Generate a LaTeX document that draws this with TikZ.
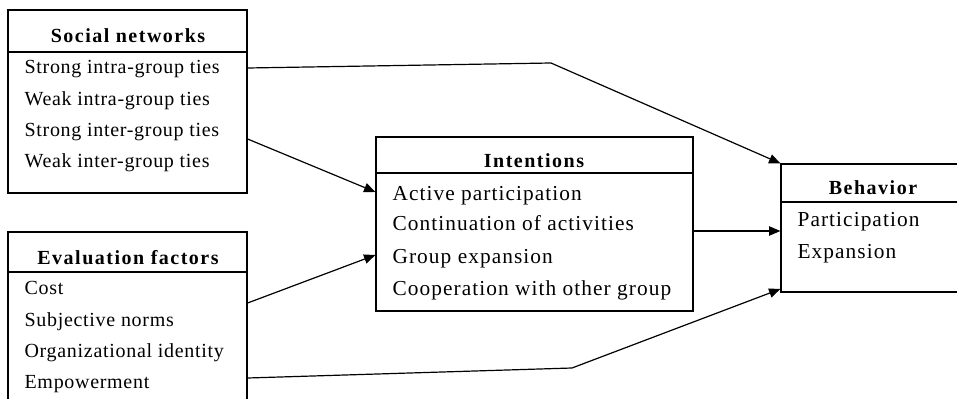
\documentclass[tikz,border=0pt]{standalone}
\usepackage{fontspec}
\setmainfont{Liberation Serif}[LetterSpace=3.5]
\newfontfamily\headfont{Liberation Serif}[LetterSpace=7.5]
\newfontfamily\wideitemfont{Liberation Serif}[LetterSpace=5]
\usetikzlibrary{arrows.meta,fit}

\begin{document}
\begin{tikzpicture}[x=0.75pt,y=-0.75pt,line width=0.9pt,
  box/.style={draw,inner sep=0pt},
  head/.style={anchor=base,inner sep=0pt,font=\headfont\bfseries\fontsize{15}{17}\selectfont},
  item/.style={anchor=base west,inner sep=0pt,font=\fontsize{15}{17}\selectfont},
  wideitem/.style={item,font=\wideitemfont\fontsize{16}{18}\selectfont},
  link/.style={-{Triangle[length=8.5pt,width=7pt]}}]
 \useasboundingbox (0,0) rectangle (957,399);
 \clip (0,0) rectangle (957,399);
 % boxes; the evaluation box and the behavior box run off the page
 \node[box,fit={(8,10) (247,193)}] (soc) {};
 \node[box,fit={(8,232) (247,420)}] (eva) {};
 \node[box,fit={(376,137) (693,311)}] (int) {};
 \node[box,fit={(781,164) (963,292)}] (beh) {};
 \draw (soc.west |- 0,52) -- (soc.east |- 0,52);
 \draw (eva.west |- 0,272) -- (eva.east |- 0,272);
 \draw (int.west |- 0,173) -- (int.east |- 0,173);
 \draw (beh.west |- 0,202) -- (beh.east |- 0,202);
 \node[head] (soct) at (128,43) {Social networks};
 \node[head] (evat) at (128,264) {Evaluation factors};
 \node[head] (intt) at (534,168) {Intentions};
 \node[head] (beht) at (873,195) {Behavior};
 \node[item] (s1) at (24,74) {Strong intra-group ties};
 \node[item] (s2) at (24,106) {Weak intra-group ties};
 \node[item] (s3) at (24,137) {Strong inter-group ties};
 \node[item] (s4) at (24,168) {Weak inter-group ties};
 \node[item] (e1) at (24,294) {Cost};
 \node[item] (e2) at (24,326) {Subjective norms};
 \node[item] (e3) at (24,357) {Organizational identity};
 \node[item] (e4) at (24,388) {Empowerment};
 \node[wideitem] (i1) at (392,200) {Active participation};
 \node[wideitem] (i2) at (392,231) {Continuation of activities};
 \node[wideitem] (i3) at (392,263) {Group expansion};
 \node[wideitem] (i4) at (392,295) {Cooperation with other group};
 \node[wideitem] (b1) at (797,227) {Participation};
 \node[wideitem] (b2) at (797,258) {Expansion};
 % connectors
 \coordinate (k1) at (551,63);
 \coordinate (k2) at (572,368);
 \draw[link] (soc.east |- 0,68) -- (k1) -- (beh.north west);
 \draw[link] (soc.east |- 0,139) -- (int.west |- 0,192);
 \draw[link] (eva.east |- 0,303) -- (int.west |- 0,255);
 \draw[link] (int.east |- 0,231) -- (beh.west |- 0,231);
 \draw[link] (eva.east |- 0,378) -- (k2) -- (beh.west |- 0,289);
\end{tikzpicture}
\end{document}
